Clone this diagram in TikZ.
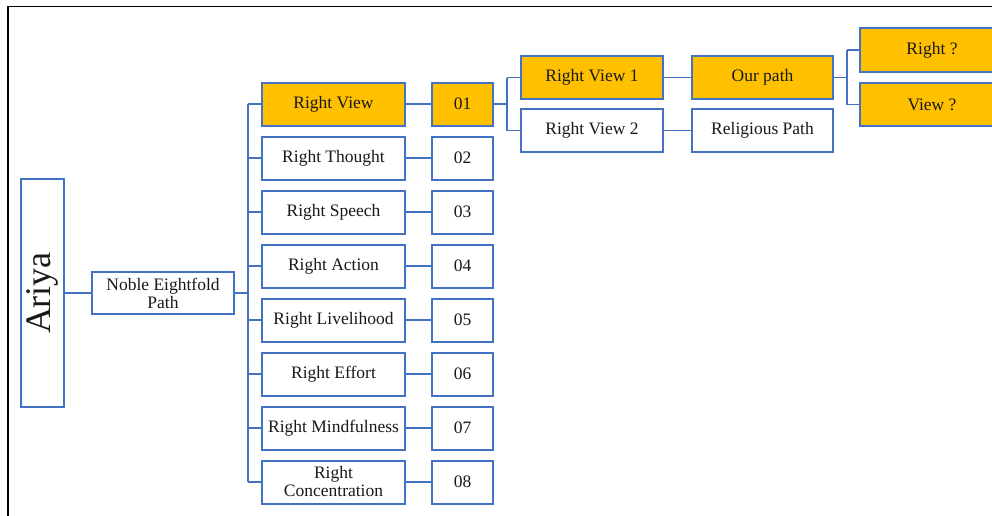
\documentclass[tikz,border=0pt]{standalone}
\usepackage{fontspec}
\setmainfont{Liberation Serif}
\definecolor{boxblue}{HTML}{4472C4}
\definecolor{gold}{HTML}{FFC000}
\begin{document}
\begin{tikzpicture}[x=1pt,y=-1pt,
  box/.style={draw=boxblue, line width=2pt, fill=white, inner sep=0pt,
    align=center, font=\fontsize{17.5}{18}\selectfont, text=black!90},
  hot/.style={box, fill=gold},
  wide/.style={minimum width=143pt, minimum height=43pt},
  num/.style={minimum width=61pt, minimum height=43pt},
  link/.style={draw=boxblue, line width=1.7pt}]
\useasboundingbox (0,0) rectangle (992,515);
% outer frame (only the top and left edges fall on the page)
\draw[line width=1.6pt] (8,520) -- (8,6.5) -- (1000,6.5);

% root and first level
\node[box, minimum width=43pt, minimum height=228pt,
  font=\fontsize{36}{36}\selectfont] (ariya) at (42.5,293) {\rotatebox{90}{Ariya}};
\node[box, minimum width=142pt, minimum height=42pt] (noble) at (163,293) {Noble Eightfold\\Path};

% the eight factors and their numbers
\node[hot, wide] (f1) at (333.5,104) {Right View};
\node[box, wide] (f2) at (333.5,158) {Right Thought};
\node[box, wide] (f3) at (333.5,212) {Right Speech};
\node[box, wide] (f4) at (333.5,266) {Right Action};
\node[box, wide] (f5) at (333.5,320) {Right Livelihood};
\node[box, wide] (f6) at (333.5,374) {Right Effort};
\node[box, wide] (f7) at (333.5,428) {Right Mindfulness};
\node[box, wide] (f8) at (333.5,482) {Right\\Concentration};

\node[hot, num] (n1) at (462.5,104) {01};
\node[box, num] (n2) at (462.5,158) {02};
\node[box, num] (n3) at (462.5,212) {03};
\node[box, num] (n4) at (462.5,266) {04};
\node[box, num] (n5) at (462.5,320) {05};
\node[box, num] (n6) at (462.5,374) {06};
\node[box, num] (n7) at (462.5,428) {07};
\node[box, num] (n8) at (462.5,482) {08};

% the two readings of Right View
\node[hot, minimum width=142pt, minimum height=43pt] (rv1) at (592,77.5) {Right View 1};
\node[box, minimum width=142pt, minimum height=43pt] (rv2) at (592,130.5) {Right View 2};
\node[hot, minimum width=141pt, minimum height=43pt] (our) at (762.5,77.5) {Our path};
\node[box, minimum width=141pt, minimum height=43pt] (rel) at (762.5,130.5) {Religious Path};
\node[hot, minimum width=144pt, minimum height=44pt] (qr) at (932,50) {Right ?};
\node[hot, minimum width=144pt, minimum height=43pt] (qv) at (932,104.5) {View ?};

% connectors
\coordinate (trunk) at (248,0);
\draw[link] (ariya.east) -- (noble.west);
\draw[link] (noble.east) -- (noble.east -| trunk);
\draw[link] (f1.west -| trunk) -- (f8.west -| trunk);
\foreach \i in {1,...,8} {
  \draw[link] (f\i.west -| trunk) -- (f\i.west);
  \draw[link] (f\i.east) -- (n\i.west);
}
\coordinate (fork1) at (507,0);
\draw[link] (n1.east) -- (n1.east -| fork1);
\draw[link] (rv1.west -| fork1) -- (rv2.west -| fork1);
\draw[link] (rv1.west -| fork1) -- (rv1.west);
\draw[link] (rv2.west -| fork1) -- (rv2.west);
\draw[link] (rv1.east) -- (our.west);
\draw[link] (rv2.east) -- (rel.west);
\coordinate (fork2) at (847,0);
\draw[link] (our.east) -- (our.east -| fork2);
\draw[link] (qr.west -| fork2) -- (qv.west -| fork2);
\draw[link] (qr.west -| fork2) -- (qr.west);
\draw[link] (qv.west -| fork2) -- (qv.west);
\end{tikzpicture}
\end{document}
